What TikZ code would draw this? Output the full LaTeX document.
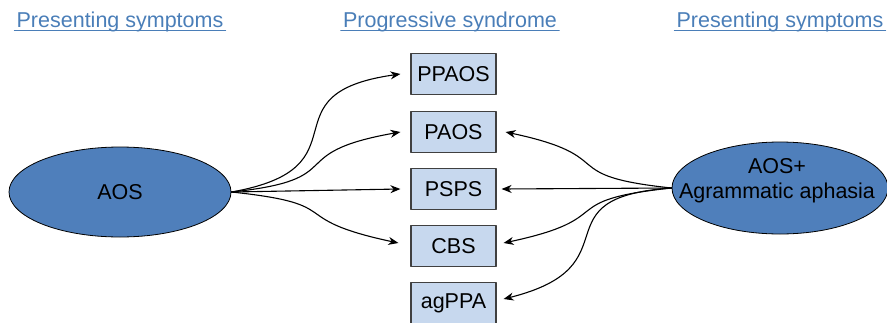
\documentclass[tikz,border=0pt]{standalone}
\usepackage{fontspec}
\setmainfont{Liberation Sans}
\usetikzlibrary{shapes.geometric,arrows.meta}
\definecolor{ovalblue}{RGB}{79,127,187}
\definecolor{boxblue}{RGB}{199,216,238}
\definecolor{headblue}{RGB}{74,126,184}
\begin{document}
\begin{tikzpicture}[x=1pt,y=-1pt,>={Stealth[length=10pt,width=8pt]}, font=\fontsize{21.5}{25}\selectfont, line join=round, line cap=round,
  head/.style={text=headblue,anchor=base,inner xsep=2pt,inner ysep=0pt},
  headline/.style={draw=headblue,line width=1.3pt},
  oval/.style={ellipse,draw=black,line width=0.8pt,fill=ovalblue,inner sep=0pt},
  syn/.style={rectangle,draw=black!75,line width=1.2pt,fill=boxblue,minimum width=85pt,minimum height=41pt,inner sep=0pt},
  arr/.style={->,line width=1.1pt}]
\useasboundingbox (0,0) rectangle (887,322);
\node[head] (hleft) at (120,27) {Presenting symptoms};
\node[head] (hmid) at (450,27) {Progressive syndrome};
\node[head] (hright) at (780,27) {Presenting symptoms};
\draw[headline] ([yshift=1pt]hleft.south west)--([yshift=1pt]hleft.south east);
\draw[headline] ([yshift=1pt]hmid.south west)--([yshift=1pt]hmid.south east);
\draw[headline] ([yshift=1pt]hright.south west)--([yshift=1pt]hright.south east);
\node[oval,minimum width=222pt,minimum height=90pt] (aos) at (120,192) {AOS};
\node[oval,minimum width=216pt,minimum height=92pt] (aosag) at (780,188) {};
\node[align=center] (aosagtext) at (777,181) {AOS+\\Agrammatic aphasia};
\node[syn] (ppaos) at (453.5,74) {PPAOS};
\node[syn] (paos) at (453.5,132) {PAOS};
\node[syn] (psps) at (453.5,189) {PSPS};
\node[syn] (cbs) at (453.5,246) {CBS};
\node[syn] (agppa) at (453.5,303) {agPPA};
\draw[arr] (aos.east) to[out=10,in=188,looseness=1.75] ([xshift=-10pt]ppaos.west);
\draw[arr] (aos.east) to[out=6,in=190,looseness=1.75] ([xshift=-10pt]paos.west);
\draw[arr] (aos.east) -- ([xshift=-10pt]psps.west);
\draw[arr] (aos.east) to[out=-6,in=168,looseness=1.75] ([xshift=-12pt,yshift=3pt]cbs.west);
\draw[arr] (aosag.west) to[out=174,in=-12,looseness=1.75] ([xshift=9pt]paos.east);
\draw[arr] (aosag.west) -- ([xshift=5pt]psps.east);
\draw[arr] (aosag.west) to[out=186,in=12,looseness=1.75] ([xshift=7pt,yshift=3pt]cbs.east);
\draw[arr] (aosag.west) to[out=184,in=14,looseness=1.75] ([xshift=7pt,yshift=4pt]agppa.east);
\end{tikzpicture}
\end{document}
